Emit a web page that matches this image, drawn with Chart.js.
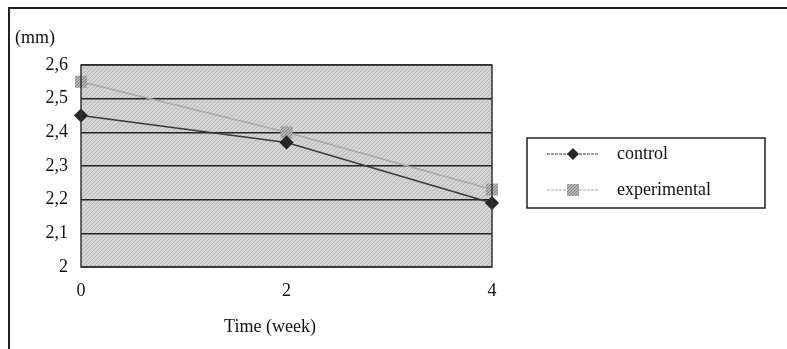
<!DOCTYPE html>
<html>
<head>
<meta charset="utf-8">
<script src="https://cdn.jsdelivr.net/npm/chart.js@4/dist/chart.umd.min.js"></script>
<style>
  html, body { margin: 0; padding: 0; background: #fff; }
  #wrap { width: 787px; height: 349px; position: relative; }
</style>
</head>
<body>
<div id="wrap"><canvas id="lineChart"></canvas></div>
<script>
// data
const weeks = [0, 2, 4];
const controlValues = [2.45, 2.37, 2.19];
const experimentalValues = [2.55, 2.40, 2.23];
const seriesNames = ['control', 'experimental'];
const yTicks = [2, 2.1, 2.2, 2.3, 2.4, 2.5, 2.6];
const yUnit = '(mm)';
const xTitle = 'Time (week)';

const FONT = '"Liberation Serif", "DejaVu Serif", serif';

function hatch(bg, fg, size) {
    const c = document.createElement('canvas');
    c.width = size; c.height = size;
    const g = c.getContext('2d');
    g.fillStyle = bg;
    g.fillRect(0, 0, size, size);
    g.strokeStyle = fg;
    g.lineWidth = 1;
    g.beginPath();
    g.moveTo(0, size); g.lineTo(size, 0);
    g.moveTo(-1, 1); g.lineTo(1, -1);
    g.moveTo(size - 1, size + 1); g.lineTo(size + 1, size - 1);
    g.stroke();
    return g.createPattern(c, 'repeat');
}

function toPoints(xs, ys) {
    return xs.map((x, i) => ({ x: x, y: ys[i] }));
}

const ctx = document.getElementById('lineChart').getContext('2d');
const plotFill = hatch('#d4d4d4', '#bababa', 4);
const squareFill = hatch('#b4b4b4', '#858585', 3);

// frame, hatched plot area, unit label, x title, legend box
const decorations = {
    id: 'decorations',
    beforeDraw(chart) {
        const c = chart.ctx;
        const a = chart.chartArea;
        c.save();
        c.strokeStyle = '#222';
        c.lineWidth = 2;
        c.beginPath();
        c.moveTo(9, 349);
        c.lineTo(9, 8);
        c.lineTo(787, 8);
        c.stroke();
        c.fillStyle = plotFill;
        c.fillRect(a.left, a.top, a.right - a.left, a.bottom - a.top);
        c.restore();
    },
    afterDraw(chart) {
        const c = chart.ctx;
        const a = chart.chartArea;
        c.save();
        c.strokeStyle = '#333';
        c.lineWidth = 1.5;
        c.strokeRect(a.left, a.top, a.right - a.left, a.bottom - a.top);

        c.fillStyle = '#111';
        c.font = '18px ' + FONT;
        c.textBaseline = 'middle';
        c.textAlign = 'left';
        c.fillText(yUnit, 15, 38);
        c.textAlign = 'center';
        c.fillText(xTitle, 270, 327);

        // legend
        c.strokeStyle = '#222';
        c.lineWidth = 1.5;
        c.strokeRect(527, 138, 238, 70);
        chart.data.datasets.forEach((ds, i) => {
            const y = 154 + i * 36;
            c.strokeStyle = ds.borderColor;
            c.lineWidth = 1.2;
            c.setLineDash([3, 1]);
            c.beginPath();
            c.moveTo(547, y);
            c.lineTo(598, y);
            c.stroke();
            c.setLineDash([]);
            c.fillStyle = ds.pointBackgroundColor;
            if (ds.pointStyle === 'rectRot') {
                c.beginPath();
                c.moveTo(573, y - 6); c.lineTo(579, y); c.lineTo(573, y + 6); c.lineTo(567, y);
                c.closePath();
                c.fill();
            } else {
                c.fillRect(567, y - 6, 12, 12);
            }
            c.fillStyle = '#111';
            c.font = '18px ' + FONT;
            c.textAlign = 'left';
            c.fillText(ds.label, 617, y);
        });
        c.restore();
    }
};

new Chart(ctx, {
    type: 'line',
    data: {
        datasets: [{
            label: seriesNames[0],
            data: toPoints(weeks, controlValues),
            borderColor: '#3a3a3a',
            borderWidth: 1.5,
            pointStyle: 'rectRot',
            pointRadius: 6,
            pointBackgroundColor: '#262626',
            pointBorderColor: '#262626',
            clip: false
        }, {
            label: seriesNames[1],
            data: toPoints(weeks, experimentalValues),
            borderColor: '#a9a9a9',
            borderWidth: 1.5,
            pointStyle: 'rect',
            pointRadius: 8.5,
            pointBackgroundColor: squareFill,
            pointBorderColor: '#a0a0a0',
            pointBorderWidth: 0,
            clip: false
        }]
    },
    options: {
        responsive: true,
        maintainAspectRatio: false,
        animation: false,
        layout: { padding: { left: 0, right: 295, top: 65, bottom: 0 } },
        plugins: {
            legend: { display: false },
            tooltip: { enabled: false }
        },
        scales: {
            x: {
                type: 'linear',
                min: 0,
                max: 4,
                afterBuildTicks: (s) => { s.ticks = weeks.map(v => ({ value: v })); },
                afterFit: (s) => { s.height = 82; },
                border: { display: false },
                grid: { drawOnChartArea: false, drawTicks: false },
                ticks: {
                    padding: 13,
                    color: '#111',
                    font: { family: FONT, size: 18 }
                }
            },
            y: {
                min: 2,
                max: 2.6,
                afterBuildTicks: (s) => { s.ticks = yTicks.map(v => ({ value: v })); },
                afterFit: (s) => { s.width = 81; },
                border: { display: false },
                grid: { color: '#222', lineWidth: 1.5, drawTicks: false },
                ticks: {
                    padding: 13,
                    color: '#111',
                    font: { family: FONT, size: 18 },
                    callback: (v) => {
                        const r = Math.round(v * 10) / 10;
                        return Number.isInteger(r) ? String(r) : r.toFixed(1).replace('.', ',');
                    }
                }
            }
        }
    },
    plugins: [decorations]
});
</script>
</body>
</html>
